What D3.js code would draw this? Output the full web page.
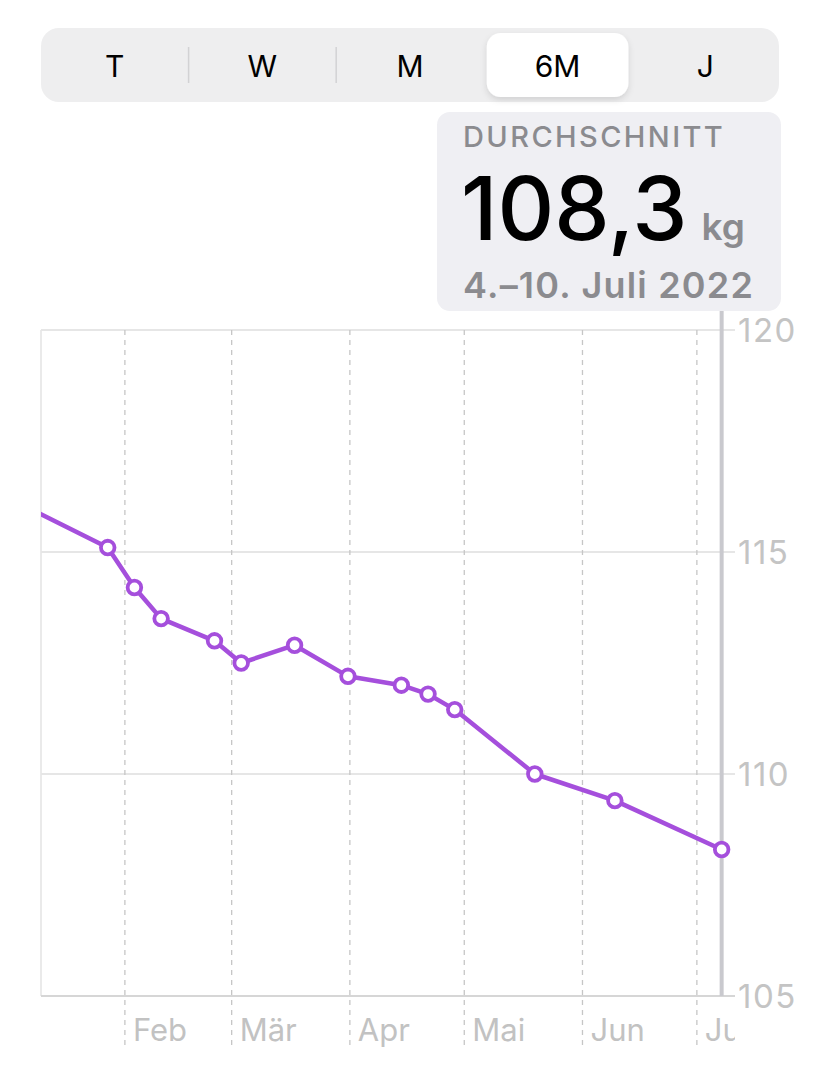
<!DOCTYPE html>
<html><head><meta charset="utf-8">
<script src="https://cdn.jsdelivr.net/npm/d3@7"></script>
<style>html,body{margin:0;padding:0;background:#fff;} svg{display:block;font-family:Inter,"Noto Sans",sans-serif;}</style>
</head><body>
<svg id="c" width="823" height="1080"></svg>
<script>
// ---- data ----
const segments = ["T","W","M","6M","J"];
const selectedSegment = "6M";
const weekDates = ["2022-01-06","2022-01-27","2022-02-03","2022-02-10","2022-02-24","2022-03-03","2022-03-17","2022-03-31","2022-04-14","2022-04-21","2022-04-28","2022-05-19","2022-06-09","2022-07-07"];
const weightKg = [116.0,115.1,114.2,113.5,113.0,112.5,112.9,112.2,112.0,111.8,111.45,110.0,109.4,108.3];
const yTicks = [105,110,115,120];
const monthTicks = ["2022-02-01","2022-03-01","2022-04-01","2022-05-01","2022-06-01","2022-07-01"];
const monthLabels = ["Feb","Mär","Apr","Mai","Jun","Juli"];
const calloutTitle = "DURCHSCHNITT";
const calloutValue = "108,3";
const calloutUnit = "kg";
const calloutRange = "4.–10. Juli 2022";
const selectedDate = "2022-07-07";

const svg = d3.select("#c");
const purple = "#a54fdc";
const parse = s => new Date(s + "T12:00:00");
const parseDay = s => new Date(s + "T00:00:00");

// ---- segmented control ----
const segX = d3.scaleBand().domain(segments).range([41, 779]);
svg.append("rect").attr("x",41).attr("y",28).attr("width",738).attr("height",74).attr("rx",18).attr("fill","#eeeeef");
const defs = svg.append("defs");
const f = defs.append("filter").attr("id","sh").attr("x","-20%").attr("y","-30%").attr("width","140%").attr("height","170%");
f.append("feDropShadow").attr("dx",0).attr("dy",3).attr("stdDeviation",3).attr("flood-color","#000").attr("flood-opacity",0.12);
svg.append("rect").attr("x",segX(selectedSegment)+3).attr("y",33).attr("width",segX.bandwidth()-6).attr("height",64).attr("rx",14).attr("fill","#fff").attr("filter","url(#sh)");
[1,2].forEach(i=>{
  const x = segX(segments[i]);
  svg.append("line").attr("x1",x).attr("x2",x).attr("y1",47).attr("y2",83).attr("stroke","#d2d2d4").attr("stroke-width",1.5);
});
svg.selectAll("text.seg").data(segments).join("text").attr("class","seg")
  .attr("x",d=>segX(d)+segX.bandwidth()/2).attr("y",77).attr("text-anchor","middle")
  .attr("font-size",30).attr("font-weight",400).attr("fill","#000").text(d=>d);

// ---- scales ----
const x = d3.scaleTime().domain([parseDay("2022-01-10"), parseDay("2022-07-11")]).range([41,735]);
const y = d3.scaleLinear().domain([105,120]).range([996,330]);

// ---- grid ----
svg.append("line").attr("x1",41).attr("x2",41).attr("y1",330).attr("y2",996).attr("stroke","#e3e3e3").attr("stroke-width",1.5);
svg.selectAll("line.hg").data(yTicks).join("line").attr("class","hg")
  .attr("x1",41).attr("x2",735).attr("y1",d=>y(d)).attr("y2",d=>y(d))
  .attr("stroke",d=>d===105?"#d6d6d6":"#e6e6e6").attr("stroke-width",1.8);
svg.selectAll("line.vg").data(monthTicks).join("line").attr("class","vg")
  .attr("x1",d=>x(parseDay(d))).attr("x2",d=>x(parseDay(d))).attr("y1",330).attr("y2",1046)
  .attr("stroke","#c6c6c6").attr("stroke-width",1.3).attr("stroke-dasharray","5,5");

// month labels (clipped at right edge)
defs.append("clipPath").attr("id","lblclip").append("rect").attr("x",0).attr("y",1000).attr("width",735).attr("height",60);
svg.append("g").attr("clip-path","url(#lblclip)").selectAll("text").data(monthTicks).join("text")
  .attr("x",d=>x(parseDay(d))+8).attr("y",1041).attr("font-size",31).attr("fill","#c2c2c2")
  .text((d,i)=>monthLabels[i]);

// y labels
svg.selectAll("text.yl").data(yTicks).join("text").attr("class","yl")
  .attr("x",738).attr("y",d=>y(d)+12).attr("font-size",33).attr("letter-spacing",1.5).attr("fill","#c4c4c4").text(d=>d);

// selection line
svg.append("line").attr("x1",x(parse(selectedDate))).attr("x2",x(parse(selectedDate)))
  .attr("y1",310).attr("y2",996).attr("stroke","#c9c9ce").attr("stroke-width",4);

// ---- line & points ----
defs.append("clipPath").attr("id","plot").append("rect").attr("x",41).attr("y",320).attr("width",700).attr("height",690);
const data = weekDates.map((d,i)=>({date:parse(d), v:weightKg[i]}));
const g = svg.append("g").attr("clip-path","url(#plot)");
g.append("path").datum(data)
  .attr("d", d3.line().x(d=>x(d.date)).y(d=>y(d.v)))
  .attr("fill","none").attr("stroke",purple).attr("stroke-width",4.5).attr("stroke-linejoin","round");
g.selectAll("circle").data(data.filter(d=>x(d.date)>41)).join("circle")
  .attr("cx",d=>x(d.date)).attr("cy",d=>y(d.v)).attr("r",6.8)
  .attr("fill","#fff").attr("stroke",purple).attr("stroke-width",3.8);

// ---- callout ----
svg.append("rect").attr("x",437).attr("y",112).attr("width",344).attr("height",199).attr("rx",13).attr("fill","#efeff3");
svg.append("text").attr("x",463).attr("y",147).attr("font-size",29).attr("font-weight",500).attr("fill","#8b8b8f").attr("letter-spacing",2.4).text(calloutTitle);
const vt = svg.append("text").attr("x",461).attr("y",240);
vt.append("tspan").attr("font-size",88).attr("font-weight",500).attr("fill","#000").text(calloutValue);
vt.append("tspan").attr("dx",14).attr("font-size",37).attr("font-weight",600).attr("fill","#8b8b8f").text(calloutUnit);
svg.append("text").attr("x",463).attr("y",298).attr("font-size",36).attr("font-weight",600).attr("letter-spacing",1.2).attr("fill","#8b8b8f").text(calloutRange);
</script>
</body></html>
